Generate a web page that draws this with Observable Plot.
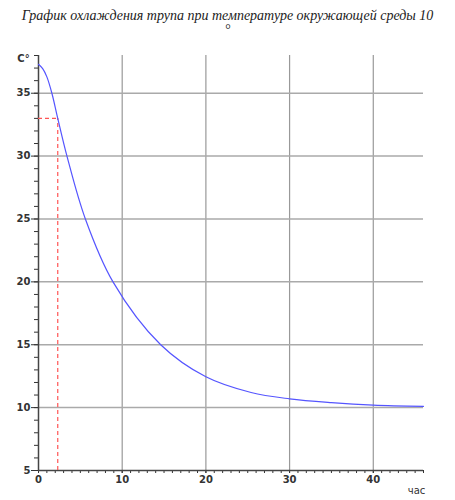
<!DOCTYPE html>
<html>
<head>
<meta charset="utf-8">
<script src="https://cdn.jsdelivr.net/npm/d3@7"></script>
<script src="https://cdn.jsdelivr.net/npm/@observablehq/plot@0.6"></script>
<style>
  body { margin: 0; background: #fff; }
  #title { width: 455px; height: 40px; box-sizing: border-box; padding-top: 9px;
    font-family: "Liberation Serif", "DejaVu Serif", serif; font-style: italic; font-size: 14px;
    line-height: 14px; text-align: center; color: #222; white-space: nowrap; }
</style>
</head>
<body>
<div id="title"></div>
<div id="chart"></div>
<script>
const titleLines = ["График охлаждения трупа при температуре окружающей среды 10", "°"];
const hours = [0, 0.5, 1, 1.6, 2.3, 3.4, 5.6, 8.9, 14.6, 20, 25.4, 30, 35, 40, 46];
const temps = [37.3, 36.95, 36.3, 35, 33, 30, 25, 20, 15, 12.45, 11.2, 10.7, 10.4, 10.2, 10.1];
const markerHour = 2.3;
const markerTemp = 33;
const xMajor = [0, 10, 20, 30, 40];
const xMinor = d3.range(0, 47, 1);
const yMajor = [5, 10, 15, 20, 25, 30, 35];
const yMinor = d3.range(5, 39, 1);
const xGrid = [10, 20, 30, 40];
const yGrid = [10, 15, 20, 25, 30, 35];
const yUnit = "C°";
const xUnit = "час";

document.getElementById("title").innerHTML = titleLines.join("<br>");

const data = hours.map((h, i) => ({h, t: temps[i]}));

const chart = Plot.plot({
  width: 455,
  height: 460,
  marginTop: 15,
  marginBottom: 30,
  marginLeft: 38,
  marginRight: 32,
  style: {fontFamily: "DejaVu Sans, sans-serif", fontSize: "10px", fontWeight: "bold", color: "#333"},
  x: {domain: [0, 46], label: null},
  y: {domain: [5, 38], label: null},
  marks: [
    Plot.gridX(xGrid, {stroke: "#999", strokeOpacity: 1, strokeWidth: 1.2}),
    Plot.gridY(yGrid, {stroke: "#aaa", strokeOpacity: 1, strokeWidth: 1.5}),
    Plot.axisX(xMinor, {tickSize: 3, tickFormat: () => "", label: null, stroke: "#333"}),
    Plot.axisX(xMajor, {tickSize: 3, tickPadding: 2, label: null, fill: "#333"}),
    Plot.axisY(yMinor, {tickSize: 4, tickFormat: () => "", label: null, stroke: "#333"}),
    Plot.axisY(yMajor, {tickSize: 7, tickPadding: 1, label: null, fill: "#333"}),
    Plot.ruleX([0], {stroke: "#444", strokeWidth: 1.5}),
    Plot.ruleY([5], {stroke: "#444", strokeWidth: 1.5}),
    Plot.ruleX([markerHour], {y1: 5, y2: markerTemp, stroke: "#f55", strokeWidth: 1.2, strokeDasharray: "4,3"}),
    Plot.ruleY([markerTemp], {x1: 0, x2: markerHour, stroke: "#f55", strokeWidth: 1.2, strokeDasharray: "4,3"}),
    Plot.line(data, {x: "h", y: "t", curve: "catmull-rom", stroke: "#5555ff", strokeWidth: 1.2}),
    Plot.text([yUnit], {frameAnchor: "top-left", text: d => d, dx: -15, dy: 3, textAnchor: "middle", lineAnchor: "middle", fill: "#333"}),
    Plot.text([xUnit], {frameAnchor: "bottom-right", text: d => d, dx: -7, dy: 20, textAnchor: "middle", lineAnchor: "middle", fill: "#333", fontWeight: "normal"})
  ]
});
document.getElementById("chart").appendChild(chart);
</script>
</body>
</html>
